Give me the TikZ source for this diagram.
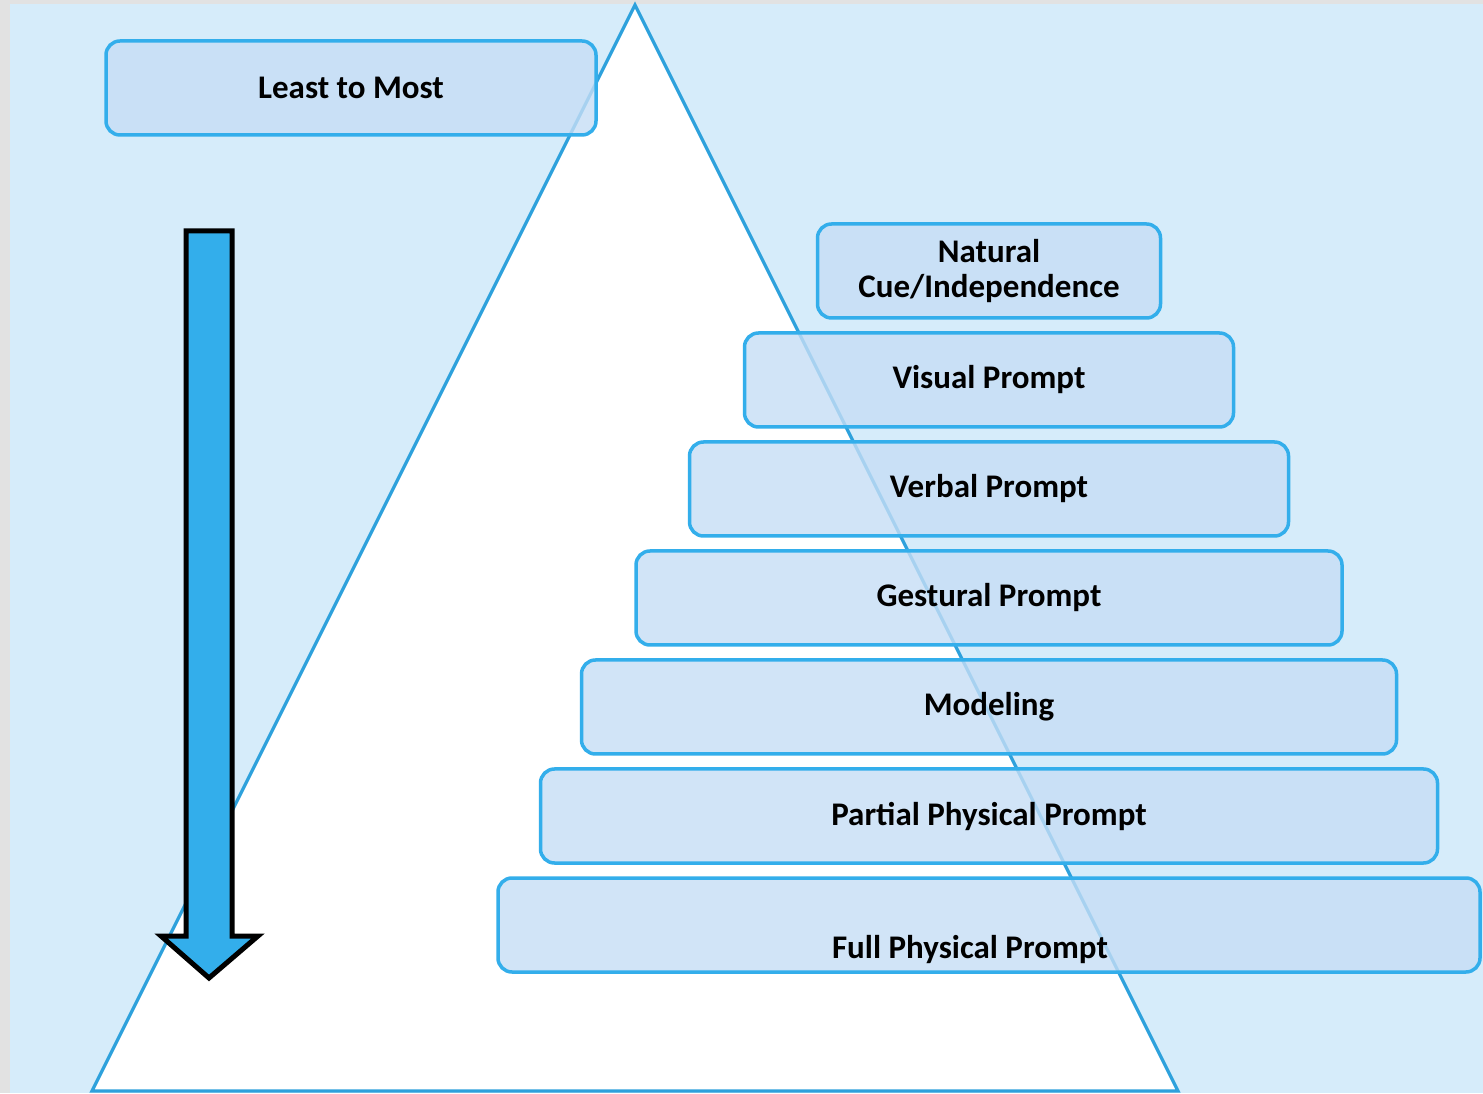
\documentclass[tikz,border=0pt]{standalone}
\usepackage{fontspec}
\setmainfont{Carlito}
\usepackage{tikz}
\usetikzlibrary{shapes,arrows}
\definecolor{pagegrey}{RGB}{226,226,226}
\definecolor{skyback}{RGB}{214,236,250}
\definecolor{edgeblue}{RGB}{46,161,220}
\definecolor{boxline}{RGB}{51,174,235}
\definecolor{boxfill}{RGB}{198,222,245}
\definecolor{arrowfill}{RGB}{51,174,235}

\begin{document}
\begin{tikzpicture}[
	x=1pt, y=1pt,
	pbox/.style={
		node distance = 109pt,
		rectangle,
		draw=boxline,
		line width=3.5pt,
		rounded corners=14pt,
		fill=boxfill,
		fill opacity=0.8,
		text opacity=1,
		minimum height=94pt,
		inner sep=0pt,
		font=\bfseries\fontsize{33}{38}\selectfont},
	ptext/.style={
		inner sep=0pt,
		font=\bfseries\fontsize{33}{38}\selectfont}]

    \useasboundingbox (0,0) rectangle (1483,1093);
    % Page and background
    \fill[pagegrey] (0,0) rectangle (1483,1093);
    \fill[skyback] (10,0) rectangle (1483,1089);
    % Pyramid
    \draw[edgeblue, line width=3.2pt, fill=white, line join=miter]
        (635,1088) -- (92,2) -- (1178,2) -- cycle;
    % Down arrow
    \draw[black, line width=5pt, fill=arrowfill, line join=miter]
        (186,862) -- (232,862) -- (232,157) -- (258,157)
        -- (209,115) -- (161,157) -- (186,157) -- cycle;

    % Place nodes
    \node [pbox, minimum width=490pt] (order) at (351,1005) {Least to Most};
    \node [pbox, minimum width=343pt, align=center] (natural) at (989,822)
        {Natural\\[-3pt]Cue/Independence};
    \node [pbox, minimum width=489pt, below of=natural] (visual) {Visual Prompt};
    \node [pbox, minimum width=599pt, below of=visual] (verbal) {Verbal Prompt};
    \node [pbox, minimum width=706pt, below of=verbal] (gestural) {Gestural Prompt};
    \node [pbox, minimum width=815pt, below of=gestural] (modeling) {Modeling};
    \node [pbox, minimum width=897pt, below of=modeling] (partial) {Partial Physical Prompt};
    \node [pbox, minimum width=982pt, below of=partial] (full) {};
    \node [ptext] (fulltext) at ([xshift=-19pt,yshift=-25pt]full.center) {Full Physical Prompt};
\end{tikzpicture}
\end{document}
